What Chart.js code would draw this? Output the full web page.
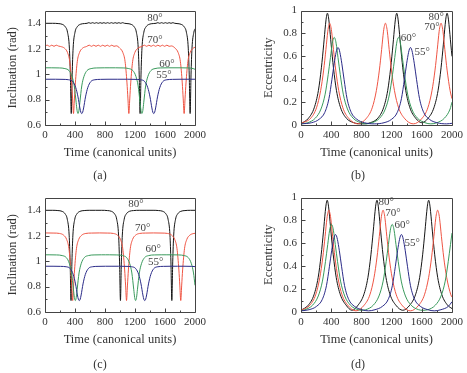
<!DOCTYPE html>
<html lang="en">
<head>
<meta charset="UTF-8">
<title>Inclination and eccentricity</title>
<script src="https://cdn.jsdelivr.net/npm/chart.js"></script>
<style>
    body {
        margin: 0;
        width: 467px;
        height: 373px;
        position: relative;
        overflow: hidden;
        background: #fff;
        font-family: "Liberation Serif", "DejaVu Serif", serif;
    }
    canvas { position: absolute; }
    #pa { left: 0; top: 0; }
    #pb { left: 233px; top: 0; }
    #pc { left: 0; top: 187px; }
    #pd { left: 233px; top: 187px; }
    .tag {
        position: absolute;
        font-size: 12px;
        line-height: 16px;
        color: #333;
        transform: translateX(-50%);
    }
</style>
</head>
<body>

<canvas id="pa" width="233" height="186"></canvas>
<canvas id="pb" width="234" height="186"></canvas>
<canvas id="pc" width="233" height="186"></canvas>
<canvas id="pd" width="234" height="186"></canvas>

<div class="tag" style="left:100px; top:167px">(a)</div>
<div class="tag" style="left:358px; top:167px">(b)</div>
<div class="tag" style="left:100px; top:356px">(c)</div>
<div class="tag" style="left:358px; top:356px">(d)</div>

<script>
// axis ticks
const xTicks = [0, 400, 800, 1200, 1600, 2000];
const xMinor = [200, 600, 1000, 1400, 1800];
const incTicks = [0.6, 0.8, 1, 1.2, 1.4];
const incMinor = [0.7, 0.9, 1.1, 1.3];
const eccTicks = [0, 0.2, 0.4, 0.6, 0.8, 1];
const eccMinor = [0.1, 0.3, 0.5, 0.7, 0.9];
const angles = ['80°', '70°', '60°', '55°'];

// label anchors (time, value) for 80, 70, 60, 55 degrees
const posA = [[1467, 1.438], [1467, 1.267], [1627, 1.082], [1587, 0.99]];
const posB = [[1792, 0.94], [1736, 0.855], [1423, 0.76], [1604, 0.64]];
const posC = [[1213, 1.446], [1303, 1.262], [1444, 1.092], [1476, 0.99]];
const posD = [[1130, 0.957], [1217, 0.863], [1340, 0.757], [1472, 0.60]];

// panel (a): inclination, 80 and 70 deg have their own times (short-period ripple)
const tA80 = [0,100,175,230,270,300,325,338,350,362,375,400,430,470,525,560,585,610,635,660,685,710,735,760,785,810,835,860,885,910,935,960,985,1010,1035,1060,1093,1148,1188,1218,1243,1256,1268,1280,1293,1318,1348,1388,1443,1480,1505,1530,1555,1580,1605,1630,1655,1680,1705,1730,1760,1815,1855,1885,1910,1923,1935,1947,1960,1985,2000];
const iA80 = [1.40,1.40,1.398,1.392,1.373,1.33,1.205,0.994,0.69,0.994,1.205,1.33,1.373,1.392,1.398,1.40,1.405,1.40,1.405,1.40,1.405,1.40,1.405,1.40,1.405,1.40,1.405,1.40,1.405,1.40,1.405,1.40,1.405,1.40,1.405,1.40,1.398,1.392,1.373,1.33,1.205,0.994,0.69,0.994,1.205,1.33,1.373,1.392,1.398,1.40,1.405,1.40,1.405,1.40,1.405,1.40,1.405,1.40,1.405,1.40,1.398,1.392,1.373,1.33,1.205,0.994,0.69,0.994,1.205,1.33,1.357];

const tA70 = [0,30,60,90,120,150,180,205,260,300,330,355,368,380,392,405,430,460,500,555,590,620,650,680,710,740,770,800,830,860,890,920,950,998,1038,1068,1093,1106,1118,1130,1143,1168,1198,1238,1293,1325,1355,1385,1415,1445,1475,1505,1535,1565,1595,1625,1655,1685,1735,1775,1805,1830,1843,1855,1867,1880,1905,1935,1975,2000];
const iA70 = [1.222,1.228,1.219,1.228,1.219,1.228,1.221,1.218,1.204,1.17,1.098,0.931,0.805,0.69,0.805,0.931,1.098,1.17,1.204,1.218,1.228,1.219,1.228,1.219,1.228,1.219,1.228,1.219,1.228,1.219,1.228,1.219,1.223,1.204,1.17,1.098,0.931,0.805,0.69,0.805,0.931,1.098,1.17,1.204,1.218,1.228,1.219,1.228,1.219,1.228,1.219,1.228,1.219,1.228,1.219,1.228,1.219,1.222,1.204,1.17,1.098,0.931,0.805,0.69,0.805,0.931,1.098,1.17,1.204,1.212];

// panel (b): eccentricity; 60 and 55 deg share times with panel (a)
const tB80 = [0,100,175,230,270,300,325,338,350,362,375,400,430,470,525,600,700,810,918,1018,1093,1148,1188,1218,1243,1256,1268,1280,1293,1318,1348,1388,1443,1518,1600,1685,1760,1815,1855,1885,1910,1923,1935,1947,1960,1985,2000];
const eB80 = [0.01,0.06,0.15,0.3,0.5,0.7,0.88,0.95,0.977,0.95,0.88,0.7,0.5,0.3,0.15,0.06,0.02,0.01,0.02,0.06,0.15,0.3,0.5,0.7,0.88,0.95,0.977,0.95,0.88,0.7,0.5,0.3,0.15,0.06,0.02,0.06,0.15,0.3,0.5,0.7,0.88,0.95,0.977,0.95,0.88,0.7,0.6];

const tB70 = [0,130,205,260,300,330,355,368,380,392,405,430,460,500,555,630,749,868,943,998,1038,1068,1093,1106,1118,1130,1143,1168,1198,1238,1293,1368,1487,1605,1680,1735,1775,1805,1830,1843,1855,1867,1880,1905,1935,1975,2000];
const eB70 = [0.015,0.06,0.15,0.3,0.48,0.66,0.82,0.87,0.89,0.87,0.82,0.66,0.48,0.3,0.15,0.06,0.01,0.06,0.15,0.3,0.48,0.66,0.82,0.87,0.89,0.87,0.82,0.66,0.48,0.3,0.15,0.06,0.01,0.06,0.15,0.3,0.48,0.66,0.82,0.87,0.89,0.87,0.82,0.66,0.48,0.3,0.23];

const tB60 = [0,90,190,265,320,360,390,415,428,440,452,465,490,520,560,615,690,790,866,942,1042,1117,1172,1212,1242,1267,1280,1292,1304,1317,1342,1372,1412,1467,1542,1642,1720,1800,1900,1975,2000];
const eB60 = [0.01,0.02,0.06,0.14,0.27,0.44,0.59,0.715,0.753,0.766,0.753,0.715,0.59,0.44,0.27,0.14,0.06,0.02,0.01,0.02,0.06,0.14,0.27,0.44,0.59,0.715,0.753,0.766,0.753,0.715,0.59,0.44,0.27,0.14,0.06,0.02,0.01,0.02,0.06,0.14,0.2];
const iA60 = [1.05,1.05,1.049,1.044,1.028,0.983,0.907,0.779,0.713,0.69,0.713,0.779,0.907,0.983,1.028,1.044,1.049,1.05,1.05,1.05,1.049,1.044,1.028,0.983,0.907,0.779,0.713,0.69,0.713,0.779,0.907,0.983,1.028,1.044,1.049,1.05,1.05,1.05,1.049,1.044,1.038];

const tB55 = [0,140,240,315,370,410,440,465,478,490,502,515,540,570,610,665,740,840,970,1100,1200,1275,1330,1370,1400,1425,1438,1450,1462,1475,1500,1530,1570,1625,1700,1800,1930,2000];
const eB55 = [0.01,0.02,0.05,0.11,0.23,0.4,0.54,0.635,0.667,0.677,0.667,0.635,0.54,0.4,0.23,0.11,0.05,0.02,0.01,0.02,0.05,0.11,0.23,0.4,0.54,0.635,0.667,0.677,0.667,0.635,0.54,0.4,0.23,0.11,0.05,0.02,0.01,0.015];
const iA55 = [0.96,0.96,0.959,0.956,0.941,0.894,0.821,0.734,0.70,0.69,0.70,0.734,0.821,0.894,0.941,0.956,0.959,0.96,0.96,0.96,0.959,0.956,0.941,0.894,0.821,0.734,0.70,0.69,0.70,0.734,0.821,0.894,0.941,0.956,0.959,0.96,0.96,0.96];

// panels (c) and (d)
const tD80 = [0,97,172,227,267,297,322,335,347,359,372,397,427,467,522,597,676,756,831,886,926,956,981,994,1006,1018,1031,1056,1086,1126,1181,1256,1348,1441,1516,1571,1611,1641,1666,1679,1691,1703,1716,1741,1771,1811,1866,1941,2000];
const eD80 = [0.015,0.06,0.15,0.3,0.5,0.7,0.88,0.95,0.977,0.95,0.88,0.7,0.5,0.3,0.15,0.06,0.015,0.06,0.15,0.3,0.5,0.7,0.88,0.95,0.977,0.95,0.88,0.7,0.5,0.3,0.15,0.06,0.015,0.06,0.15,0.3,0.5,0.7,0.88,0.95,0.977,0.95,0.88,0.7,0.5,0.3,0.15,0.06,0.03];
const iC80 = [1.40,1.40,1.398,1.392,1.373,1.33,1.205,0.994,0.69,0.994,1.205,1.33,1.373,1.392,1.398,1.40,1.40,1.40,1.398,1.392,1.373,1.33,1.205,0.994,0.69,0.994,1.205,1.33,1.373,1.392,1.398,1.40,1.40,1.40,1.398,1.392,1.373,1.33,1.205,0.994,0.69,0.994,1.205,1.33,1.373,1.392,1.398,1.40,1.40];

const tD70 = [0,119,194,249,289,319,344,357,369,381,394,419,449,489,544,619,728,837,912,967,1007,1037,1062,1075,1087,1099,1112,1137,1167,1207,1262,1337,1448,1560,1635,1690,1730,1760,1785,1798,1810,1822,1835,1860,1890,1930,1985,2000];
const eD70 = [0.015,0.06,0.15,0.3,0.48,0.66,0.82,0.87,0.89,0.87,0.82,0.66,0.48,0.3,0.15,0.06,0.01,0.06,0.15,0.3,0.48,0.66,0.82,0.87,0.89,0.87,0.82,0.66,0.48,0.3,0.15,0.06,0.01,0.06,0.15,0.3,0.48,0.66,0.82,0.87,0.89,0.87,0.82,0.66,0.48,0.3,0.15,0.13];
const iC70 = [1.222,1.221,1.218,1.204,1.17,1.098,0.931,0.805,0.69,0.805,0.931,1.098,1.17,1.204,1.218,1.221,1.222,1.221,1.218,1.204,1.17,1.098,0.931,0.805,0.69,0.805,0.931,1.098,1.17,1.204,1.218,1.221,1.222,1.221,1.218,1.204,1.17,1.098,0.931,0.805,0.69,0.805,0.931,1.098,1.17,1.204,1.218,1.219];

const tD60 = [0,54,154,229,284,324,354,379,392,404,416,429,454,484,524,579,654,754,806,858,958,1033,1088,1128,1158,1183,1196,1208,1220,1233,1258,1288,1328,1383,1458,1558,1615,1680,1780,1855,1910,1950,1980,2000];
const eD60 = [0.01,0.02,0.06,0.14,0.27,0.44,0.59,0.715,0.753,0.766,0.753,0.715,0.59,0.44,0.27,0.14,0.06,0.02,0.015,0.02,0.06,0.14,0.27,0.44,0.59,0.715,0.753,0.766,0.753,0.715,0.59,0.44,0.27,0.14,0.06,0.02,0.015,0.02,0.06,0.14,0.27,0.44,0.59,0.69];
const iC60 = [1.05,1.05,1.049,1.044,1.028,0.983,0.907,0.779,0.713,0.69,0.713,0.779,0.907,0.983,1.028,1.044,1.049,1.05,1.05,1.05,1.049,1.044,1.028,0.983,0.907,0.779,0.713,0.69,0.713,0.779,0.907,0.983,1.028,1.044,1.049,1.05,1.05,1.05,1.049,1.044,1.028,0.983,0.907,0.81];

const tD55 = [0,107,207,282,337,377,407,432,445,457,469,482,507,537,577,632,707,807,893,980,1080,1155,1210,1250,1280,1305,1318,1330,1342,1355,1380,1410,1450,1505,1580,1680,1765,1853,1953,2000];
const eD55 = [0.01,0.02,0.05,0.11,0.23,0.4,0.54,0.635,0.667,0.677,0.667,0.635,0.54,0.4,0.23,0.11,0.05,0.02,0.01,0.02,0.05,0.11,0.23,0.4,0.54,0.635,0.667,0.677,0.667,0.635,0.54,0.4,0.23,0.11,0.05,0.02,0.01,0.02,0.05,0.09];
const iC55 = [0.96,0.96,0.959,0.956,0.941,0.894,0.821,0.734,0.70,0.69,0.70,0.734,0.821,0.894,0.941,0.956,0.959,0.96,0.96,0.96,0.959,0.956,0.941,0.894,0.821,0.734,0.70,0.69,0.70,0.734,0.821,0.894,0.941,0.956,0.959,0.96,0.96,0.96,0.959,0.957];

// styles: blue (55), green (60), red (70), black (80)
const lineColors = ['#2b2b88', '#3a9a5c', '#ef5544', '#151515'];
const ink = '#333';

Chart.defaults.font.family = '"Liberation Serif", "DejaVu Serif", serif';
Chart.defaults.color = ink;

// frame + inward ticks + angle labels
const boxTicks = {
    id: 'boxTicks',
    afterDraw(chart, args, opts) {
        const ctx = chart.ctx, a = chart.chartArea;
        const xs = chart.scales.x, ys = chart.scales.y;
        const L = Math.round(a.left) + 0.5, R = Math.round(a.right) + 0.5;
        const T = Math.round(a.top) + 0.5, B = Math.round(a.bottom) + 0.5;
        ctx.save();
        ctx.strokeStyle = '#444';
        ctx.lineWidth = 1;
        ctx.beginPath();
        ctx.rect(L, T, R - L, B - T);
        const tick = (vals, len, horiz) => vals.forEach(v => {
            if (horiz) {
                const px = Math.round(xs.getPixelForValue(v)) + 0.5;
                ctx.moveTo(px, B); ctx.lineTo(px, B - len);
            } else {
                const py = Math.round(ys.getPixelForValue(v)) + 0.5;
                ctx.moveTo(L, py); ctx.lineTo(L + len, py);
            }
        });
        tick(xTicks, 4, true);
        tick(xMinor, 2, true);
        tick(opts.yTicks, 4, false);
        tick(opts.yMinor, 2, false);
        ctx.stroke();

        ctx.fillStyle = '#444';
        ctx.font = '11px "Liberation Serif", serif';
        ctx.textAlign = 'center';
        ctx.textBaseline = 'middle';
        opts.pos.forEach((p, k) => {
            ctx.fillText(angles[k], xs.getPixelForValue(p[0]), ys.getPixelForValue(p[1]));
        });
        ctx.restore();
    }
};

function series(ts, vs) {
    return ts.map((t, k) => ({ x: t, y: vs[k] }));
}

function panel(id, sets, yMin, yMax, yTicks, yMinor, yTitle, pad, pos) {
    new Chart(document.getElementById(id), {
        type: 'scatter',
        data: {
            datasets: sets.map((s, k) => ({
                data: series(s[0], s[1]),
                borderColor: lineColors[k],
                showLine: true,
                pointRadius: 0,
                borderWidth: 1,
                cubicInterpolationMode: 'monotone'
            }))
        },
        options: {
            responsive: false,
            animation: false,
            events: [],
            layout: { padding: { left: pad.l, right: pad.r, top: 8, bottom: 21 } },
            plugins: {
                legend: { display: false },
                tooltip: { enabled: false },
                boxTicks: { yTicks: yTicks, yMinor: yMinor, pos: pos }
            },
            scales: {
                x: {
                    type: 'linear', min: 0, max: 2000,
                    grid: { display: false, drawTicks: false },
                    border: { display: false },
                    afterBuildTicks: s => { s.ticks = xTicks.map(v => ({ value: v })); },
                    afterFit: s => { s.height = 40; },
                    ticks: { padding: 4, font: { size: 11 }, callback: v => String(v) },
                    title: { display: true, text: 'Time (canonical units)', font: { size: 12.5 }, padding: { top: 0, bottom: 5 } }
                },
                y: {
                    type: 'linear', min: yMin, max: yMax,
                    grid: { display: false, drawTicks: false },
                    border: { display: false },
                    afterBuildTicks: s => { s.ticks = yTicks.map(v => ({ value: v })); },
                    afterFit: s => { s.width = pad.w; },
                    ticks: { padding: 4, font: { size: 11 }, callback: v => String(v) },
                    title: { display: true, text: yTitle, font: { size: 12.5 }, padding: { top: 0, bottom: 0 } }
                }
            }
        },
        plugins: [boxTicks]
    });
}

const padLeft = { l: 5, w: 40, r: 38 };
const padRight = { l: 28, w: 40, r: 14 };

panel('pa', [[tB55, iA55], [tB60, iA60], [tA70, iA70], [tA80, iA80]], 0.6, 1.5, incTicks, incMinor, 'Inclination (rad)', padLeft, posA);
panel('pb', [[tB55, eB55], [tB60, eB60], [tB70, eB70], [tB80, eB80]], 0, 1, eccTicks, eccMinor, 'Eccentricity', padRight, posB);
panel('pc', [[tD55, iC55], [tD60, iC60], [tD70, iC70], [tD80, iC80]], 0.6, 1.5, incTicks, incMinor, 'Inclination (rad)', padLeft, posC);
panel('pd', [[tD55, eD55], [tD60, eD60], [tD70, eD70], [tD80, eD80]], 0, 1, eccTicks, eccMinor, 'Eccentricity', padRight, posD);
</script>
</body>
</html>
